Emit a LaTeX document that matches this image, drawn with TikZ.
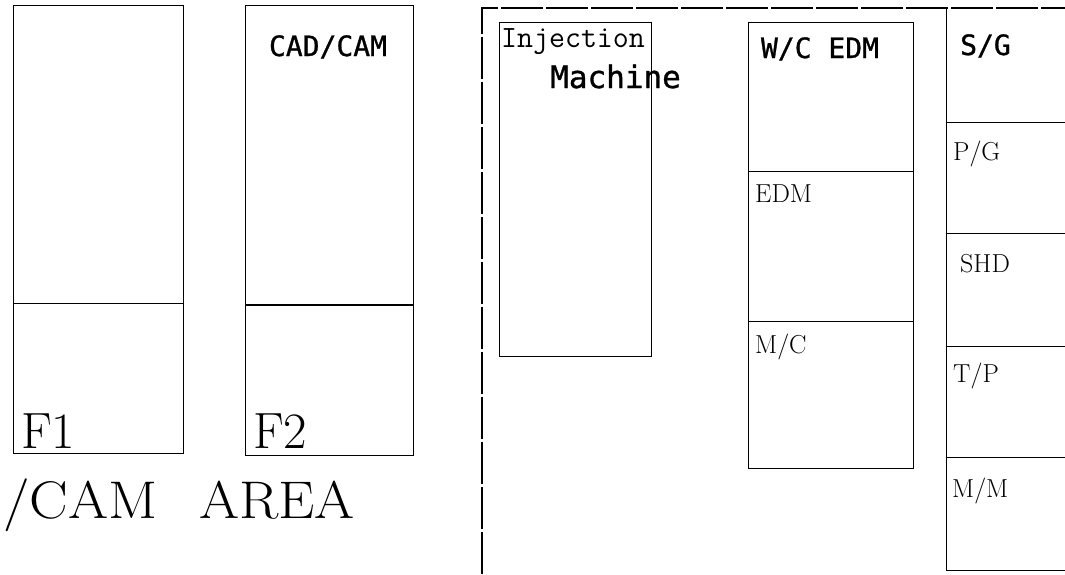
\documentclass[tikz,border=0pt]{standalone}
\usepackage{graphicx}
\usepackage{fontspec}
\newfontfamily\plotfont[FakeBold=1]{DejaVu Sans Mono}
\usetikzlibrary{positioning}

\begin{document}
\begin{tikzpicture}[x=1pt,y=-1pt,
  bay/.style={draw,line width=0.7pt,inner sep=0pt,anchor=north west},
  frame/.style={line width=1.1pt,dash pattern=on 42pt off 3pt},
  split/.style={line width=0.7pt},
  plot/.style={inner sep=0pt,anchor=base,font=\plotfont\fontsize{28}{30}\selectfont},
  tag/.style={inner sep=0pt,anchor=base west,font=\fontsize{26}{28}\selectfont\addfontfeature{FakeBold=1}},
  big/.style={inner sep=0pt,anchor=base west,font=\fontsize{51}{55}\selectfont}
]
  \useasboundingbox (0,0) rectangle (1065,574);
  % CAD/CAM area
  \node[bay,minimum width=170pt,minimum height=448pt] (f1) at (13,5) {};
  \node[bay,minimum width=168pt,minimum height=450pt] (f2) at (245,5) {};
  \draw[split] (f1.west |- 0,303) -- (f1.east |- 0,303);
  \draw[split,line width=1.1pt] (f2.west |- 0,305) -- (f2.east |- 0,305);
  \node[plot] (cadcam) at (328,56) {CAD/CAM};
  \node[big] (f1name) at (21,448) {F1};
  \node[big] (f2name) at (253,448) {F2};
  \node[big,font=\fontsize{53}{57}\selectfont] (camarea) at (3,518)
    {\scalebox{1.09}[1]{/CAM\hspace{0.72em}AREA}};
  % shop floor
  \coordinate (corner) at (482,8);
  \draw[frame] (482,574) -- (corner) -- (1065,8);
  \node[bay,minimum width=152pt,minimum height=334pt] (inj) at (499,22) {};
  \node[inner sep=0pt,anchor=base west,font=\ttfamily\fontsize{31}{33}\selectfont] (injname) at (501,47) {Injection};
  \node[plot,anchor=base west,font=\plotfont\fontsize{31}{33}\selectfont] (machname) at (550,88) {Machine};
  \node[bay,minimum width=165pt,minimum height=446pt] (edm) at (748,22) {};
  \draw[split] (edm.west |- 0,171) -- (edm.east |- 0,171);
  \draw[split] (edm.west |- 0,321) -- (edm.east |- 0,321);
  \node[plot] (wcedm) at (820,58) {W/C EDM};
  \node[tag] (edmname) at (755,202) {EDM};
  \node[tag] (mcname) at (755,353) {M/C};
  % grinding row
  \draw[split] (946,8) -- (946,570);
  \foreach \y in {122,233,346,457,570}
    \draw[split] (946,\y) -- (1065,\y);
  \node[plot,anchor=base west] (sg) at (960,55) {S/G};
  \node[tag] (pg) at (953,160) {P/G};
  \node[tag] (shd) at (960,272) {SHD};
  \node[tag] (tp) at (953,382) {T/P};
  \node[tag] (mm) at (952,497) {M/M};
\end{tikzpicture}
\end{document}
